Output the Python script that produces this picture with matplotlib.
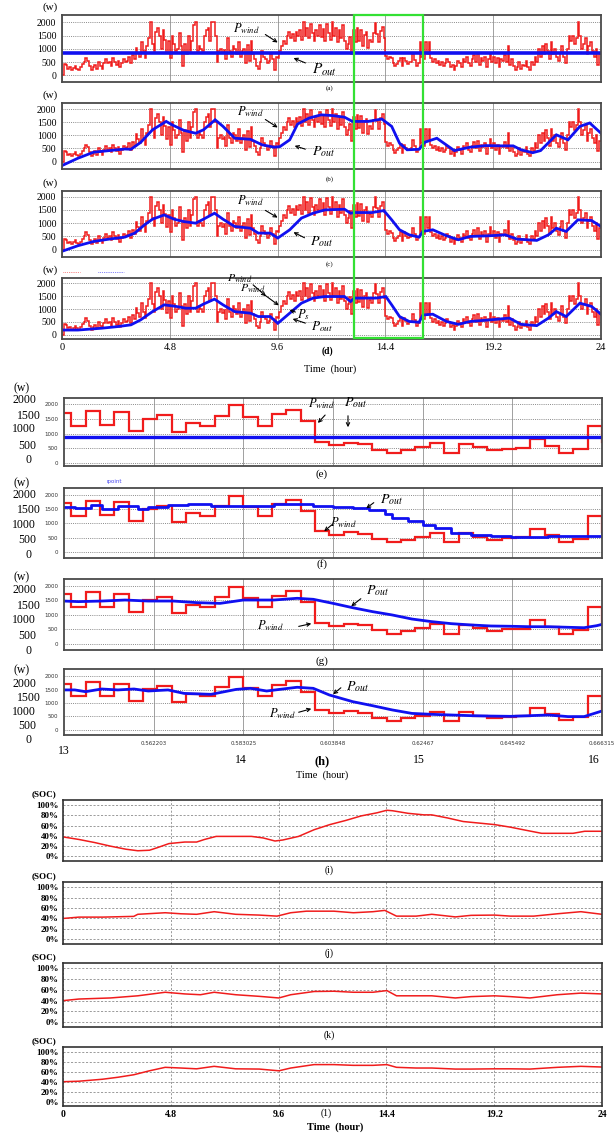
"""
Wind power smoothing results: output power of the wind/storage system
for three control methods over one day, a zoom on 13-16 h, and the
battery state of charge for each method.
"""
import numpy as np
import matplotlib
matplotlib.use('Agg')
from matplotlib import pyplot as plt
from matplotlib.lines import Line2D
from matplotlib.patches import Rectangle, FancyArrowPatch

FIG_W, FIG_H = 614, 1135

# wind power, one value every 0.08 h (300 values for 24 h)
STEP_HOURS = 0.08
WIND_POWER = [
    0, 420, 380, 250, 300, 200, 280, 350, 250, 200, 300, 420,
    500, 650, 550, 350, 200, 300, 400, 250, 500, 350, 250, 450,
    600, 450, 500, 350, 650, 500, 400, 550, 300, 450, 600, 500,
    550, 700, 450, 750, 600, 1050, 850, 700, 1250, 900, 650, 1100,
    1400, 2000, 1200, 900, 1650, 1800, 1500, 1000, 1700, 1350, 850, 1300,
    650, 1500, 1200, 900, 1000, 1600, 1100, 350, 1200, 800, 1500, 900,
    1300, 1900, 2000, 900, 1100, 1000, 900, 1500, 1700, 1800, 1300, 2000,
    2000, 1500, 500, 900, 1000, 850, 950, 600, 1400, 900, 700, 1100,
    1000, 800, 1250, 700, 900, 1000, 450, 1150, 550, 1300, 800, 600,
    350, 250, 500, 900, 700, 600, 450, 550, 800, 600, 200, 700,
    650, 900, 1100, 1300, 1200, 1500, 1650, 1400, 1550, 1300, 1650, 1500,
    1700, 1350, 2000, 1500, 1800, 1400, 1950, 1600, 1300, 1700, 1500, 1900,
    1450, 1750, 1300, 1950, 1600, 1350, 2000, 1500, 1800, 1250, 1700, 1400,
    1900, 1300, 1000, 1200, 1450, 800, 1700, 1250, 1770, 1280, 1730, 1090,
    1510, 1620, 1045, 1350, 1250, 1600, 1970, 1560, 1250, 1660, 1810, 1420,
    730, 610, 690, 640, 455, 340, 430, 530, 670, 340, 650, 530,
    430, 490, 510, 820, 580, 350, 465, 1250, 700, 600, 1250, 800,
    1250, 650, 500, 600, 450, 550, 400, 500, 350, 450, 600, 500,
    300, 400, 200, 350, 550, 450, 300, 600, 500, 700, 450, 350,
    600, 750, 500, 800, 400, 650, 550, 700, 300, 600, 850, 500,
    700, 450, 650, 300, 600, 550, 750, 500, 1100, 400, 600, 350,
    200, 300, 500, 250, 400, 350, 550, 300, 200, 500, 400, 700,
    500, 1000, 700, 1100, 800, 1200, 900, 600, 1250, 800, 1000, 700,
    550, 850, 1100, 700, 450, 1000, 1500, 1300, 1500, 1200, 1400, 2000,
    1500, 1000, 1200, 1400, 800, 1100, 1250, 900, 700, 1000, 400, 800,
]

OUT_A = 850
OUT_E = 900

B_HOURS = [0, 0.71, 1.41, 2.11, 2.80, 3.07, 3.50, 4.03, 4.64, 4.90, 5.42, 5.95,
           6.30, 6.82, 7.17, 7.69, 8.39, 8.91, 9.44, 9.70, 10.14, 10.49, 11.01,
           11.54, 12.06, 12.58, 12.93, 13.63, 14.24, 14.68, 15.03, 15.37, 15.90,
           16.16, 16.69, 17.47, 18.17, 18.87, 19.57, 20.09, 20.44, 20.96, 21.31,
           22.01, 22.53, 23.06, 23.50, 24.0]
B_OUT = [-150, 130, 360, 420, 480, 470, 730, 1210, 1530, 1400, 1190, 1080,
         1210, 1590, 1340, 890, 850, 640, 550, 570, 830, 1430, 1660,
         1780, 1750, 1690, 1530, 1530, 1620, 1340, 700, 450, 470,
         740, 890, 420, 550, 610, 600, 600, 450, 340, 420,
         1020, 830, 1340, 1470, 1080]

C_HOURS = [0, 0.71, 1.41, 2.11, 2.80, 3.24, 3.68, 4.03, 4.55, 4.99, 5.42, 5.95,
           6.30, 6.79, 7.17, 7.69, 8.39, 8.74, 9.27, 9.61, 10.14, 10.66, 11.18,
           11.71, 12.58, 12.85, 13.02, 13.80, 14.33, 14.68, 15.03, 15.46, 15.90,
           16.07, 16.51, 17.12, 17.65, 18.17, 19.04, 19.74, 20.26, 21.14, 21.66,
           22.01, 22.45, 22.97, 23.58, 24.0]
C_OUT = [-60, 150, 310, 400, 475, 625, 940, 1150, 1310, 1150, 1060, 1000,
         1150, 1375, 1150, 875, 810, 625, 625, 440, 750, 1190, 1375,
         1500, 1525, 1375, 1400, 1400, 1475, 1125, 750, 560, 475,
         690, 750, 525, 375, 500, 525, 560, 400, 350, 560,
         810, 690, 1125, 1100, 875]

D_HOURS = [0, 0.71, 1.76, 2.45, 3.07, 3.50, 4.03, 4.55, 5.08, 5.51, 5.95, 6.30,
           6.79, 7.17, 7.69, 8.39, 8.74, 9.27, 9.61, 10.14, 10.66, 11.18, 11.71,
           12.58, 12.85, 13.02, 13.98, 14.42, 14.68, 15.03, 15.46, 15.90, 16.07,
           16.51, 17.12, 17.65, 18.17, 19.04, 19.92, 20.44, 21.14, 21.66, 22.01,
           22.45, 23.06, 23.58, 24.0]
D_OUT = [190, 190, 260, 320, 390, 580, 900, 1160, 1100, 1030, 1030, 1190,
         1380, 1160, 900, 840, 710, 710, 450, 840, 1225, 1420, 1480,
         1480, 1290, 1420, 1420, 1480, 1160, 710, 520, 490, 770,
         800, 520, 410, 520, 580, 650, 410, 360, 650, 900,
         710, 1225, 1100, 800]

F_HOURS = [13.0, 13.06, 13.15, 13.21, 13.30, 13.41, 13.47, 13.58, 13.69, 13.82,
           13.96, 14.06, 14.17, 14.30, 14.39, 14.50, 14.61, 14.70, 14.79, 14.83,
           14.92, 15.00, 15.07, 15.16, 15.27, 15.38, 15.49, 15.60, 15.70, 15.81,
           15.92, 16.0]
F_OUT = [1570, 1535, 1650, 1500, 1615, 1500, 1570, 1650, 1675, 1595,
         1615, 1595, 1675, 1675, 1615, 1570, 1535, 1455, 1325, 1185,
         1070, 955, 835, 665, 605, 545, 510, 510, 570, 545,
         570, 665]

G_HOURS = [13.0, 13.08, 13.21, 13.34, 13.47, 13.61, 13.74, 13.87, 14.00, 14.17,
           14.30, 14.39, 14.50, 14.61, 14.72, 14.83, 14.94, 15.05, 15.16, 15.27,
           15.38, 15.49, 15.60, 15.70, 15.81, 15.90, 15.97, 16.0]
G_OUT = [1470, 1450, 1470, 1505, 1470, 1470, 1415, 1390, 1505, 1505,
         1565, 1530, 1390, 1240, 1105, 990, 850, 760, 690, 645,
         610, 600, 585, 585, 565, 550, 620, 665]

H_HOURS = [13.0, 13.06, 13.12, 13.21, 13.30, 13.39, 13.47, 13.58, 13.67, 13.82,
           13.96, 14.04, 14.13, 14.22, 14.30, 14.39, 14.48, 14.61, 14.72, 14.83,
           14.94, 15.05, 15.16, 15.27, 15.38, 15.49, 15.60, 15.70, 15.81, 15.90,
           16.0]
H_OUT = [1490, 1490, 1425, 1525, 1490, 1525, 1450, 1490, 1360, 1325,
         1510, 1550, 1450, 1525, 1590, 1550, 1300, 1050, 900, 740,
         610, 575, 550, 525, 510, 500, 525, 550, 490, 490,
         700]

I_HOURS = [0, 0.71, 1.41, 2.11, 2.80, 3.33, 3.85, 4.20, 4.72, 5.42, 5.95, 6.30,
           6.82, 7.69, 8.39, 8.91, 9.44, 9.79, 10.49, 11.18, 11.88, 12.58, 13.28,
           13.98, 14.42, 14.68, 15.37, 16.07, 16.42, 17.12, 17.82, 18.52, 19.22,
           19.92, 20.61, 21.31, 22.01, 22.71, 23.23, 24.0]
I_SOC = [38, 33, 27, 20, 14, 11, 12, 17, 25, 28, 28, 33,
         39, 39, 39, 36, 30, 32, 39, 52, 62, 70, 79,
         85, 90, 89, 84, 81, 81, 75, 68, 65, 62,
         57, 51, 45, 45, 45, 49, 49]

J_HOURS = [0, 0.71, 1.76, 3.15, 3.33, 4.55, 5.25, 5.95, 6.73, 7.69, 8.74, 9.53,
           10.14, 10.84, 12.06, 12.93, 13.80, 14.33, 14.85, 15.73, 16.42, 17.47,
           18.17, 19.22, 19.92, 20.96, 22.01, 23.06, 24.0]
J_SOC = [40, 42.6, 42.6, 44, 48, 51, 49, 48, 53, 48, 46.5, 44.5,
         51, 54, 54, 51, 53, 55.5, 44.5, 44.5, 48, 43,
         46, 46.5, 44.5, 44.5, 49, 53, 48]

K_HOURS = [0, 0.71, 2.11, 3.33, 4.55, 5.42, 6.12, 6.73, 7.69, 8.74, 9.61, 10.14,
           11.18, 12.06, 12.93, 13.80, 14.42, 14.85, 15.73, 16.42, 17.47, 18.17,
           19.22, 19.92, 20.79, 22.01, 23.06, 24.0]
K_SOC = [40, 43, 45, 49, 55.6, 52.5, 51, 55.6, 51, 48, 45, 51,
         57, 57.5, 55.6, 55.6, 58.7, 49, 49, 49, 45, 47.5,
         49, 47.5, 45, 51, 54, 52.5]

L_HOURS = [0, 0.71, 1.76, 2.45, 3.15, 3.85, 4.55, 5.25, 5.95, 6.73, 7.69, 8.74,
           9.61, 10.14, 11.18, 12.06, 12.93, 13.80, 14.42, 14.85, 15.73, 16.42,
           17.47, 18.17, 19.22, 19.92, 20.79, 22.01, 23.06, 24.0]
L_SOC = [40, 41, 45, 49, 54, 62, 69, 67.6, 66, 71, 66, 65.5,
         62, 67.6, 74.5, 74.5, 73, 73, 74.5, 69, 67.6, 67.6,
         65.5, 65.5, 66, 66, 65.5, 69, 71, 69.6]

DAY_TICKS = [0, 4.8, 9.6, 14.4, 19.2, 24]
DAY_TICK_LABELS = ['0', '4.8', '9.6', '14.4', '19.2', '24']
ZOOM_TICKS = [13.5, 14, 14.5, 15, 15.5, 16]
ZOOM_TICK_LABELS = ['0.562203', '0.583025', '0.603848', '0.62467', '0.645492', '0.666315']
ZOOM_HOUR_LABELS = ['13', '14', '15', '16']
POWER_TICKS = [0, 500, 1000, 1500, 2000]
SOC_TICKS = [0, 20, 40, 60, 80, 100]
SOC_TICK_LABELS = ['0%', '20%', '40%', '60%', '80%', '100%']

RED = '#f01c1c'
BLUE = '#1010f0'
SERIF = 'Liberation Serif'


def px_rect(x0, y0, x1, y1):
    """Axes rectangle in figure fraction from pixel box (top-left origin)."""
    return [x0 / FIG_W, 1 - y1 / FIG_H, (x1 - x0) / FIG_W, (y1 - y0) / FIG_H]


def fxy(x, y):
    """Figure fraction coordinates from pixel position (top-left origin)."""
    return x / FIG_W, 1 - y / FIG_H


def ftext(fig, x, y, s, **kw):
    kw.setdefault('ha', 'center')
    kw.setdefault('va', 'center')
    kw.setdefault('family', SERIF)
    fig.text(*fxy(x, y), s, **kw)


def arrow(fig, tail, head):
    fig.add_artist(FancyArrowPatch(fxy(*tail), fxy(*head), transform=fig.transFigure,
                                   arrowstyle='->', mutation_scale=6, lw=0.8,
                                   color='black'))


def frame(ax, color='#4a4a4a', lw=1.3):
    for sp in ax.spines.values():
        sp.set_color(color)
        sp.set_linewidth(lw)


def power_axes(fig, box, xlim, xticks, ylim):
    ax = fig.add_axes(px_rect(*box))
    ax.set_xlim(*xlim)
    ax.set_ylim(*ylim)
    ax.set_xticks(xticks)
    ax.set_yticks(POWER_TICKS)
    ax.grid(axis='y', color='#8a8a8a', ls=(0, (1, 1.2)), lw=0.7)
    ax.grid(axis='x', color='#a0a0a0', ls='-', lw=0.7)
    ax.set_axisbelow(True)
    ax.tick_params(length=0)
    frame(ax)
    return ax


def draw_day_panels(fig):
    edges = np.arange(len(WIND_POWER) + 1) * STEP_HOURS
    boxes = [(62, 15, 601, 82), (62, 103, 601, 169), (62, 191, 601, 257), (62, 278, 601, 339)]
    ylims = [(-253, 2278), (-280, 2230), (-275, 2212), (-155, 2194)]
    outs = [None, (B_HOURS, B_OUT), (C_HOURS, C_OUT), (D_HOURS, D_OUT)]
    for i, (box, ylim, out) in enumerate(zip(boxes, ylims, outs)):
        ax = power_axes(fig, box, (0, 24), DAY_TICKS, ylim)
        ax.stairs(WIND_POWER, edges, color=RED, lw=1.1, baseline=None)
        if out is None:
            ax.axhline(OUT_A, color=BLUE, lw=2.6)
        else:
            ax.plot(out[0], out[1], color=BLUE, lw=2.0, solid_joinstyle='miter')
        ax.set_yticklabels([str(v) for v in POWER_TICKS], family=SERIF, fontsize=7)
        ax.tick_params(axis='y', pad=4)
        if i == 3:
            ax.set_xticklabels(DAY_TICK_LABELS, family=SERIF, fontsize=7.5)
            ax.tick_params(axis='x', pad=3)
        else:
            ax.set_xticklabels([])
        ftext(fig, 50, box[1] - 8, '(w)', fontsize=8)

    for y, lab in [(88, '(a)'), (179, '(b)'), (264, '(c)')]:
        ftext(fig, 330, y, lab, fontsize=5)
    ftext(fig, 327, 351, '(d)', fontsize=7, weight='bold')
    ftext(fig, 330, 369, 'Time  (hour)', fontsize=7.5)

    # leftover legend marks above (d)
    for x0, x1, c in [(63, 80, RED), (98, 124, BLUE)]:
        fig.add_artist(Line2D([x0 / FIG_W, x1 / FIG_W], [fxy(0, 272)[1]] * 2,
                              transform=fig.transFigure, color=c, lw=0.5, ls=':'))

    pw = r'$P_{wind}$'
    po = r'$P_{out}$'
    ftext(fig, 246, 29, pw, fontsize=9)
    arrow(fig, (263, 33), (280, 44))
    ftext(fig, 325, 70, po, fontsize=11)
    arrow(fig, (308, 64), (291, 57))

    ftext(fig, 250, 112, pw, fontsize=9)
    arrow(fig, (263, 118), (280, 129))
    ftext(fig, 324, 152, po, fontsize=10)
    arrow(fig, (308, 150), (292, 145))

    ftext(fig, 250, 201, pw, fontsize=9)
    arrow(fig, (263, 209), (280, 219))
    ftext(fig, 322, 242, po, fontsize=10)
    arrow(fig, (307, 239), (291, 231))

    ftext(fig, 240, 279, pw, fontsize=8.5)
    ftext(fig, 253, 289, pw, fontsize=8.5)
    arrow(fig, (251, 283), (268, 298))
    arrow(fig, (262, 293), (281, 307))
    ftext(fig, 303, 315, r'$P_s$', fontsize=9)
    ftext(fig, 322, 327, po, fontsize=9.5)
    arrow(fig, (298, 313), (287, 309))
    arrow(fig, (308, 324), (290, 318))

    # window that is shown in detail below
    x0, y0 = fxy(354, 338)
    x1, y1 = fxy(423, 15)
    fig.add_artist(Rectangle((x0, y0), x1 - x0, y1 - y0, transform=fig.transFigure,
                             fill=False, edgecolor='#33e033', lw=1.6))


def draw_zoom_panels(fig):
    edges = np.arange(len(WIND_POWER) + 1) * STEP_HOURS
    boxes = [(64, 398, 602, 466), (64, 488, 602, 558), (64, 579, 602, 650), (64, 669, 602, 735)]
    ylims = [(-102, 2216), (-209, 2233), (-218, 2230), (-200, 2275)]
    outs = [None, (F_HOURS, F_OUT), (G_HOURS, G_OUT), (H_HOURS, H_OUT)]
    outer_y = [[460, 446, 429, 416, 400], [555, 540, 525, 510, 495],
               [651, 636, 620, 606, 590], [740, 726, 712, 698, 684]]
    outer_x = [31, 36, 36, 41, 36]
    w_y = [388, 483, 577, 670]
    for i, (box, ylim, out) in enumerate(zip(boxes, ylims, outs)):
        ax = power_axes(fig, box, (13, 16), ZOOM_TICKS, ylim)
        ax.stairs(WIND_POWER, edges, color=RED, lw=1.6, baseline=None)
        if out is None:
            ax.axhline(OUT_E, color=BLUE, lw=2.4)
        elif i == 1:
            ax.plot(out[0], out[1], color=BLUE, lw=2.0, drawstyle='steps-post')
        else:
            ax.plot(out[0], out[1], color=BLUE, lw=2.0)
        ax.set_yticklabels([str(v) for v in POWER_TICKS], fontsize=4, color='#333333')
        ax.tick_params(axis='y', pad=4)
        if i == 3:
            ax.set_xticklabels(ZOOM_TICK_LABELS, fontsize=4, color='#333333')
            ax.tick_params(axis='x', pad=4)
        else:
            ax.set_xticklabels([])
        for val, y, x in zip(POWER_TICKS, outer_y[i], outer_x):
            ftext(fig, x, y, str(val), fontsize=8.5, ha='right')
        ftext(fig, 22, w_y[i], '(w)', fontsize=8.5)

    for y, lab in [(474, '(e)'), (564, '(f)'), (661, '(g)')]:
        ftext(fig, 322, y, lab, fontsize=8)
    ftext(fig, 64, 751, ZOOM_HOUR_LABELS[0], fontsize=8.5)
    for x, lab in zip([241, 419, 594], ZOOM_HOUR_LABELS[1:]):
        ftext(fig, x, 760, lab, fontsize=8.5)
    ftext(fig, 322, 761, '(h)', fontsize=9, weight='bold')
    ftext(fig, 322, 775, 'Time  (hour)', fontsize=7.5)
    ftext(fig, 114, 481, 'ıpoint', fontsize=4, color='#4a4af0', family='DejaVu Sans')

    pw = r'$P_{wind}$'
    po = r'$P_{out}$'
    ftext(fig, 321, 404, pw, fontsize=9)
    arrow(fig, (327, 413), (316, 425))
    ftext(fig, 356, 403, po, fontsize=10)
    arrow(fig, (348, 413), (348, 430))

    ftext(fig, 392, 500, po, fontsize=10)
    arrow(fig, (376, 501), (364, 510))
    ftext(fig, 343, 523, pw, fontsize=9)
    arrow(fig, (334, 523), (322, 533))

    ftext(fig, 378, 591, po, fontsize=10)
    arrow(fig, (363, 597), (349, 608))
    ftext(fig, 270, 626, pw, fontsize=9)
    arrow(fig, (296, 627), (314, 623))

    ftext(fig, 358, 687, po, fontsize=10)
    arrow(fig, (343, 686), (331, 696))
    ftext(fig, 282, 714, pw, fontsize=9)
    arrow(fig, (296, 713), (314, 708))


def draw_soc_panels(fig):
    boxes = [(63, 800, 602, 861), (63, 882, 602, 944), (63, 963, 602, 1027), (63, 1047, 602, 1106)]
    series = [(I_HOURS, I_SOC), (J_HOURS, J_SOC), (K_HOURS, K_SOC), (L_HOURS, L_SOC)]
    for i, (box, (hours, soc)) in enumerate(zip(boxes, series)):
        ax = fig.add_axes(px_rect(*box))
        ax.plot(hours, soc, color=RED, lw=1.1)
        ax.set_xlim(0, 24)
        ax.set_ylim(-9, 110)
        ax.set_xticks(DAY_TICKS)
        ax.set_yticks(SOC_TICKS)
        ax.set_yticklabels(SOC_TICK_LABELS, family=SERIF, fontsize=6.5, weight='bold')
        ax.grid(color='#8a8a8a', ls=(0, (2.5, 2)), lw=0.6)
        ax.set_axisbelow(True)
        ax.tick_params(length=0, pad=3)
        frame(ax, '#333333', 1.2)
        if i == 3:
            ax.set_xticklabels(DAY_TICK_LABELS, family=SERIF, fontsize=7, weight='bold')
            ax.tick_params(axis='x', pad=3)
        else:
            ax.set_xticklabels([])
        ftext(fig, 44, box[1] - 6, '(SOC)', fontsize=6.5, weight='bold')

    for y, lab in [(870, '(i)'), (953, '(j)'), (1035, '(k)')]:
        ftext(fig, 329, y, lab, fontsize=7)
    ftext(fig, 326, 1113, '(1)', fontsize=7)
    ftext(fig, 335, 1127, 'Time  (hour)', fontsize=7.5, weight='bold')


def execute():
    """Builds the twelve panels and writes out.png."""
    plt.rcParams['mathtext.fontset'] = 'stix'
    fig = plt.figure(figsize=(FIG_W / 100, FIG_H / 100), dpi=100)
    draw_day_panels(fig)
    draw_zoom_panels(fig)
    draw_soc_panels(fig)
    fig.savefig('out.png', dpi=100)


if __name__ == "__main__":

    execute()
